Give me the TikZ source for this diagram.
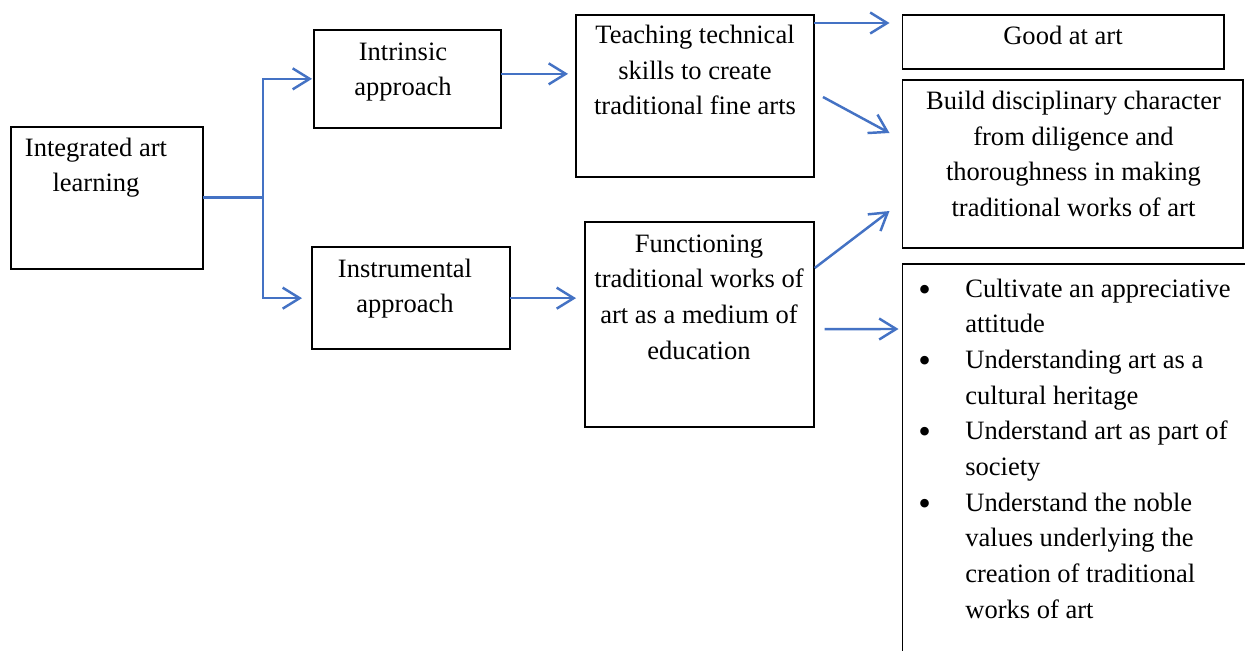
\documentclass[tikz,border=0pt]{standalone}
\usepackage{fontspec}
\usepackage{graphicx}
\setmainfont{Liberation Serif}
\usetikzlibrary{arrows.meta,calc,fit}
\definecolor{arrblue}{HTML}{4472C4}
\newcommand{\blt}{\makebox[0.94cm][l]{\raisebox{-0.15em}{\scalebox{1.35}{\textbullet}}}}
\tikzset{
  box/.style={draw=black, line width=1.1pt, inner sep=0pt, outer sep=0pt, rectangle},
  txt/.style={font=\fontsize{15.1}{20.3}\selectfont, align=center, inner sep=0pt, anchor=north},
  arr/.style={draw=arrblue, line width=1.4pt, -{Straight Barb[length=0.34cm,width=0.42cm]}},
  plain/.style={draw=arrblue, line width=1.4pt},
}
\begin{document}
\begin{tikzpicture}[x=0.02cm,y=-0.02cm]
\clip (0,0) rectangle (1245,650);
\fill[white] (0,0) rectangle (1245,650);
% boxes
\node[box, fit={(10.7,126.7) (203,268.7)}] (A) {};
\node[box, fit={(314,30) (501,127.7)}] (B) {};
\node[box, fit={(312,247.3) (510,349)}] (C) {};
\node[box, fit={(576,15) (814,177)}] (D) {};
\node[box, fit={(585,222) (813.7,426.7)}] (E) {};
\node[box, fit={(902.5,15) (1224,69)}] (F) {};
\node[box, fit={(902.5,80) (1243,248)}] (G) {};
\node[box, fit={(902.5,264.3) (1265,680)}] (H) {};
% texts
\node[txt] (At) at (96,130.7) {\strut Integrated art\\learning};
\node[txt] (Bt) at (403,35) {\strut Intrinsic\\approach};
\node[txt] (Ct) at (405,251.7) {\strut Instrumental\\approach};
\node[txt] (Dt) at (695,18.3) {\strut Teaching technical\\skills to create\\traditional fine arts};
\node[txt] (Et) at (699,226.7) {\strut Functioning\\traditional works of\\art as a medium of\\education};
\node[txt] (Ft) at (1063,19.3) {\strut Good at art};
\node[txt] (Gt) at (1073.5,84.3) {\strut Build disciplinary character\\from diligence and\\thoroughness in making\\traditional works of art};
\node[txt, align=left, anchor=north west] (Ht) at (918,271.7) {%
\strut\blt Cultivate an appreciative\\
\hspace*{0.94cm}attitude\\
\blt Understanding art as a\\
\hspace*{0.94cm}cultural heritage\\
\blt Understand art as part of\\
\hspace*{0.94cm}society\\
\blt Understand the noble\\
\hspace*{0.94cm}values underlying the\\
\hspace*{0.94cm}creation of traditional\\
\hspace*{0.94cm}works of art};
% connectors
\coordinate (split) at ($(A.east)+(60,0)$);
\draw[plain] (A.east) -- (split);
\draw[arr, shorten >=0.04cm] (split) |- (B.west);
\draw[arr, shorten >=0.2cm] (split) |- (C.west);
\coordinate (b1) at ([yshift=0.1cm]B.east);
\draw[arr, shorten >=0.16cm] (b1) -- (b1 -| D.west);
\draw[arr, shorten >=0.18cm] (C.east) -- (C.east -| E.west);
\coordinate (d1) at ([yshift=-0.16cm]D.north east);
\draw[arr, shorten >=0.26cm] (d1) -- (d1 -| F.west);
\draw[arr] ($(D.east)+(9,1)$) -- ($(G.north west)+(-13,53)$);
\draw[arr] ($(E.north east)+(1,46)$) -- ($(G.south west)+(-13,-37)$);
\draw[arr] ($(E.east)+(11,4.7)$) -- ($(H.north west)+(-4,64.7)$);
\end{tikzpicture}
\end{document}
